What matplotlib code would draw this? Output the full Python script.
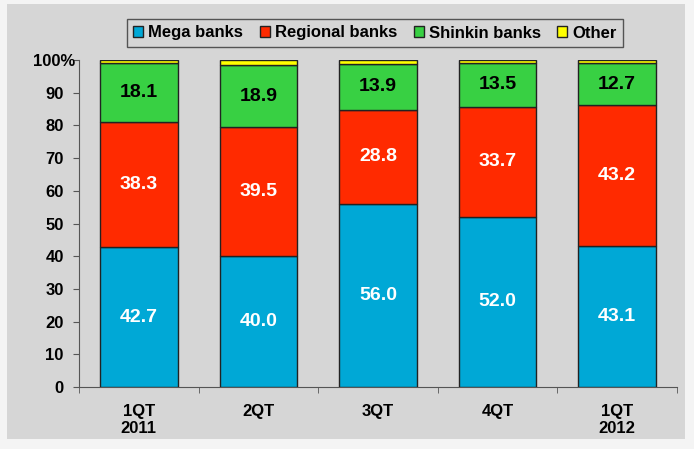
import matplotlib.pyplot as plt
import numpy as np
from matplotlib.patches import Rectangle

plt.rcParams["font.family"] = ["Liberation Sans", "DejaVu Sans"]
plt.rcParams["font.weight"] = "bold"

quarters = ["1QT\n2011", "2QT", "3QT", "4QT", "1QT\n2012"]
mega = [42.7, 40.0, 56.0, 52.0, 43.1]
regional = [38.3, 39.5, 28.8, 33.7, 43.2]
shinkin = [18.1, 18.9, 13.9, 13.5, 12.7]
other = [0.9, 1.6, 1.3, 0.8, 1.0]

series = [
    ("Mega banks", mega, "#00a8d6", "white"),
    ("Regional banks", regional, "#ff2a00", "white"),
    ("Shinkin banks", shinkin, "#38d043", "black"),
    ("Other", other, "#ffff00", None),
]

fig = plt.figure(figsize=(6.94, 4.49), dpi=100)
fig.patch.set_facecolor("#f4f4f4")
# gray panel behind the chart
fig.patches.append(Rectangle((7 / 694, 1 - 439 / 449), 678 / 694, 435 / 449,
                             transform=fig.transFigure, facecolor="#d6d6d6",
                             edgecolor="none", zorder=-5))

ax = fig.add_axes([79 / 694, 1 - 387 / 449, 598 / 694, 327 / 449])
ax.set_facecolor("none")
ax.set_zorder(2)

x = np.arange(len(quarters))
bottom = np.zeros(len(quarters))
handles = []
for name, vals, color, txt in series:
    vals = np.array(vals)
    bars = ax.bar(x, vals, 0.65, bottom=bottom, color=color,
                  edgecolor="#222222", linewidth=1.0, label=name, zorder=3)
    handles.append(bars)
    if txt is not None:
        for xi, b, v in zip(x, bottom, vals):
            ax.text(xi, b + v / 2, f"{v:.1f}", ha="center", va="center",
                    color=txt, fontsize=14, fontweight="bold", zorder=4)
    bottom += vals

ax.set_xlim(-0.5, len(quarters) - 0.5)
ax.set_ylim(0, 100)
ax.set_yticks(range(0, 101, 10))
ax.set_yticklabels([str(v) for v in range(0, 100, 10)] + ["100%"])
ax.set_xticks(x)
ax.set_xticklabels(quarters)
ax.set_xticks(np.arange(-0.5, len(quarters)), minor=True)
ax.tick_params(axis="x", which="major", length=0, pad=12, labelsize=12)
ax.tick_params(axis="x", which="minor", length=4, direction="out", color="#555555")
ax.tick_params(axis="y", length=4, direction="out", color="#555555", labelsize=12, pad=7)
for lab in ax.get_xticklabels() + ax.get_yticklabels():
    lab.set_fontweight("bold")
# the top label hugs the axis line
ax.get_yticklabels()[-1].set_x(0.02)

for s in ["top", "right"]:
    ax.spines[s].set_visible(False)
for s in ["left", "bottom"]:
    ax.spines[s].set_color("#555555")

leg = fig.legend(handles=handles, loc="center", bbox_to_anchor=(375 / 694, 1 - 33 / 449),
                 ncol=4, frameon=True, fontsize=12, handlelength=0.6, handleheight=0.6,
                 handletextpad=0.3, columnspacing=1.0, borderpad=0.4, fancybox=False)
leg.get_frame().set_facecolor("#d6d6d6")
leg.get_frame().set_edgecolor("#333333")
leg.get_frame().set_linewidth(1.0)
for t in leg.get_texts():
    t.set_fontweight("bold")

fig.savefig("out.png", dpi=100, facecolor=fig.get_facecolor())
